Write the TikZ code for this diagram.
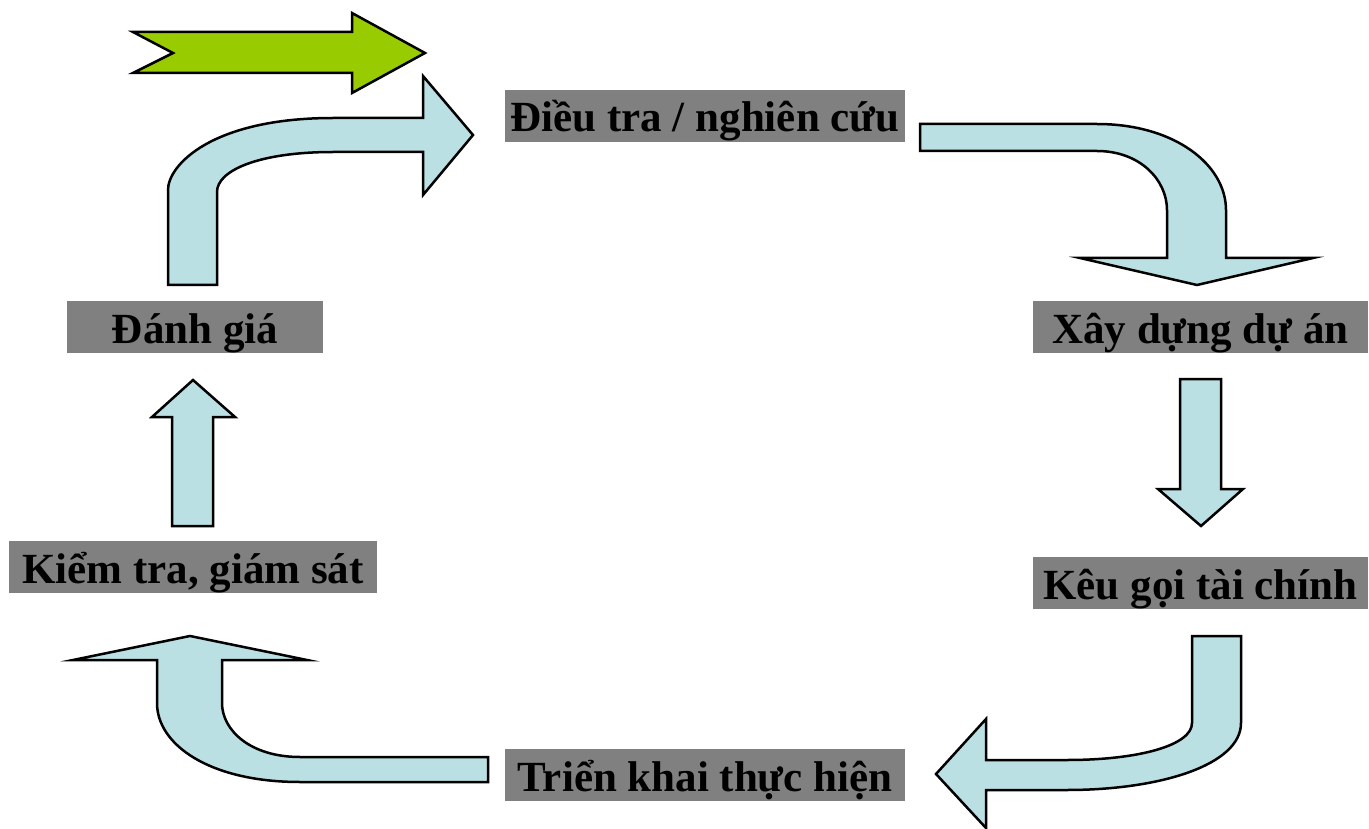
\documentclass[tikz,border=0pt]{standalone}
\usepackage{fontspec}
\setmainfont{Liberation Serif}

\definecolor{arrowcyan}{RGB}{187,224,227}
\definecolor{arrowgreen}{RGB}{153,204,0}
\definecolor{boxgray}{RGB}{128,128,128}

\tikzset{
    stage/.style={fill=boxgray, minimum height=52pt, inner sep=2pt,
        text height=40pt, text depth=8pt,
        font=\fontsize{43}{47}\selectfont\bfseries},
    blockarrow/.style={draw=black, fill=arrowcyan, line width=2.5pt}
}

\begin{document}
\begin{tikzpicture}[x=1pt, y=-1pt]

    \useasboundingbox (0,0) rectangle (1369,829);

    % Stage boxes of the cycle
    \foreach \nom/\x/\y/\w/\txt in {survey/705/116/400/{Điều tra / nghiên cứu},
                                    build/1200.5/327/335/{Xây dựng dự án},
                                    fund/1200.5/583/335/{Kêu gọi tài chính},
                                    impl/705/775/400/{Triển khai thực hiện},
                                    check/193/567/368/{Kiểm tra, giám sát},
                                    eval/195/327/256/{Đánh giá}} {
        \node[stage, minimum width=\w pt] (\nom) at (\x, \y) {\txt};
    }

    % Starting arrow
    \draw[draw=black, fill=arrowgreen, line width=2.5pt]
        (133,32) -- (352,32) -- (352,13) -- (425,53) -- (352,93)
        -- (352,73) -- (133,73) -- (173,53) -- cycle;

    % Evaluation -> survey
    \draw[blockarrow] (168,285) -- (168,190) .. controls (168,165) and (212,118) .. (333,118)
        -- (423,118) -- (423,76) -- (473,135) -- (423,195) -- (423,152) -- (333,152)
        .. controls (260,152) and (217,170) .. (217,192) -- (217,285) -- cycle;

    % Survey -> project
    \draw[blockarrow] (920,124) -- (1097,124) .. controls (1175,124) and (1226,165) .. (1226,210)
        -- (1226,258) -- (1313,258) -- (1197,285) -- (1080,258) -- (1167,258) -- (1167,210)
        .. controls (1167,180) and (1140,151) .. (1097,151) -- (920,151) -- cycle;

    % Project -> funding
    \draw[blockarrow] (1180,379) -- (1221,379) -- (1221,489) -- (1243,489) -- (1201,526)
        -- (1158,489) -- (1180,489) -- cycle;

    % Funding -> implementation
    \draw[blockarrow] (1192,636) -- (1241,636) -- (1241,723) .. controls (1241,765) and (1160,790) .. (1067,790)
        -- (986,790) -- (986,828) -- (936,774) -- (986,719) -- (986,760) -- (1067,760)
        .. controls (1140,760) and (1192,745) .. (1192,723) -- cycle;

    % Implementation -> monitoring
    \draw[blockarrow] (488,757) -- (300,757) .. controls (250,757) and (222,730) .. (222,703)
        -- (222,660) -- (307,660) -- (190,636) -- (73,660) -- (157,660) -- (157,703)
        .. controls (157,745) and (210,782) .. (300,782) -- (488,782) -- cycle;

    % Monitoring -> evaluation
    \draw[blockarrow] (172,526) -- (172,417) -- (152,417) -- (193,380) -- (235,417)
        -- (213,417) -- (213,526) -- cycle;

\end{tikzpicture}
\end{document}
